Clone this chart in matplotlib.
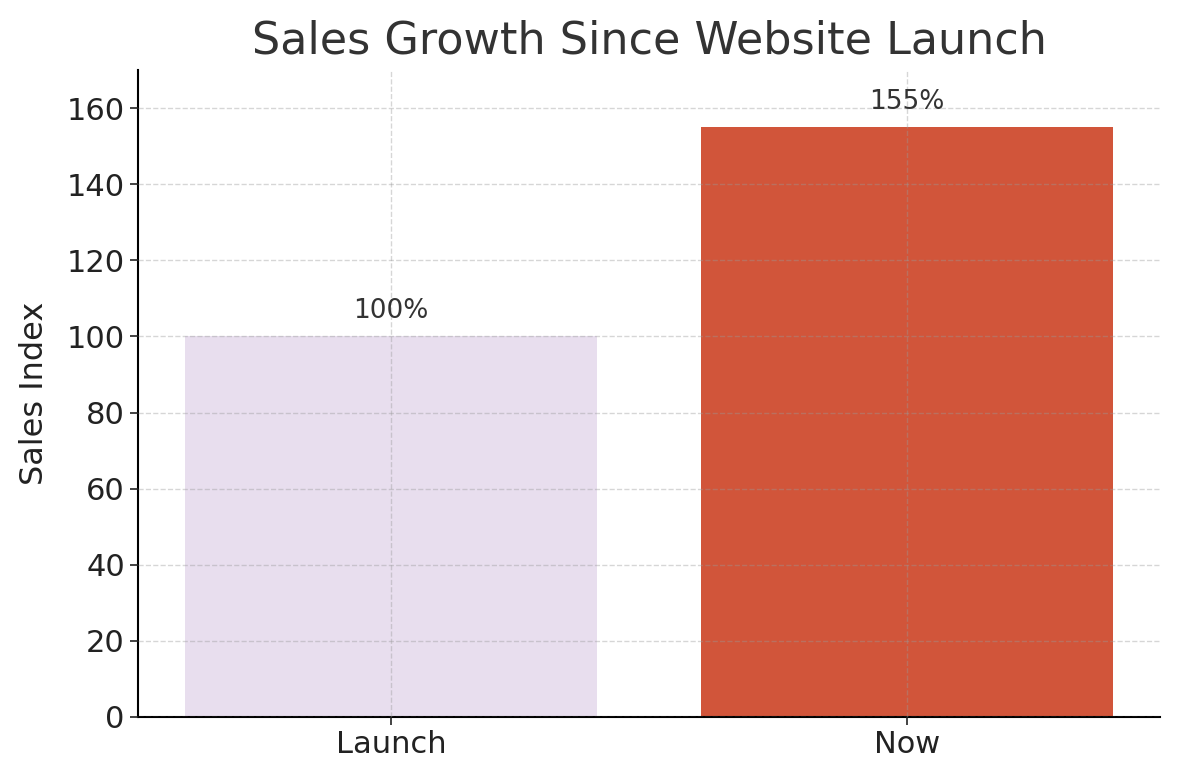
import matplotlib.pyplot as plt

labels = ['Launch', 'Now']
sales_index = [100, 155]
bar_colors = ['#E8DEEE', '#D1553A']

fig, ax = plt.subplots(figsize=(11.8, 7.8), dpi=100)
bars = ax.bar(labels, sales_index, color=bar_colors, width=0.8, zorder=1)

for b, v in zip(bars, sales_index):
    ax.text(b.get_x() + b.get_width() / 2, v + 3.2, f'{v}%',
            ha='center', va='bottom', fontsize=19, color='#333333')

ax.set_ylim(0, 170)
ax.set_title('Sales Growth Since Website Launch', fontsize=32, color='#333333', pad=12)
ax.set_ylabel('Sales Index', fontsize=23, color='#222222', labelpad=12)
ax.tick_params(axis='both', labelsize=22, colors='#222222', length=6, width=1.2)
ax.set_axisbelow(False)
ax.grid(True, linestyle='--', color='#999999', alpha=0.4, linewidth=1.0, zorder=3)
ax.spines['top'].set_visible(False)
ax.spines['right'].set_visible(False)
ax.spines['left'].set_linewidth(1.5)
ax.spines['bottom'].set_linewidth(1.5)

fig.subplots_adjust(left=0.117, right=0.983, top=0.91, bottom=0.081)
fig.savefig('out.png')
